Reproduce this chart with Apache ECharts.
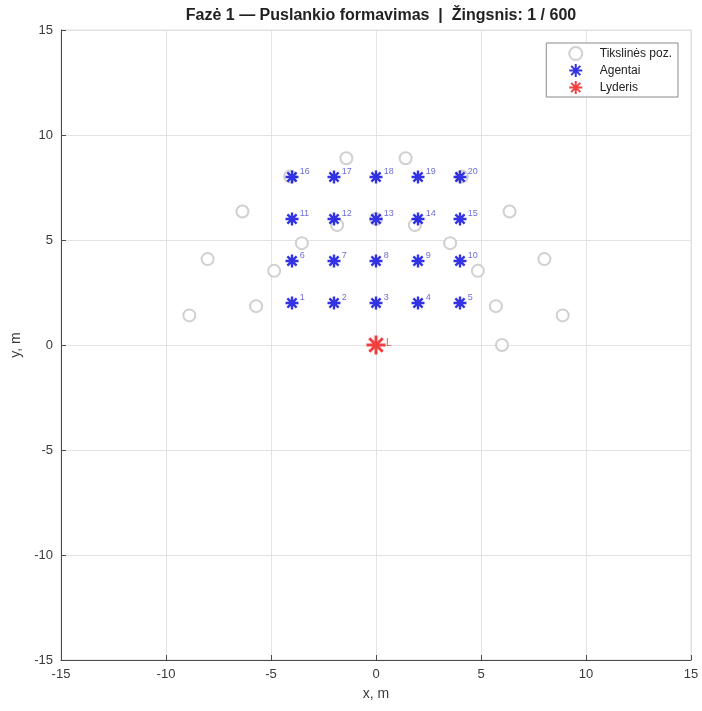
<!DOCTYPE html>
<html>
<head>
<meta charset="utf-8">
<script src="https://cdn.jsdelivr.net/npm/echarts@6/dist/echarts.min.js"></script>
<style>
  html, body { margin: 0; padding: 0; background: #fff; }
  #chart { width: 702px; height: 711px; }
</style>
</head>
<body>
<div id="chart"></div>
<script>
// Formation snapshot: target slots on two arcs, a 5x4 agent grid, leader at origin
const titleText = 'Fazė 1 — Puslankio formavimas  |  Žingsnis: 1 / 600';

// Target positions (x, y) in metres
const targetX = [6.00, 5.71, 4.85, 3.53, 1.85, 0.00, -1.85, -3.53, -4.85, -5.71,
                 8.89, 8.02, 6.36, 4.09, 1.41, -1.41, -4.09, -6.36, -8.02, -8.89];
const targetY = [0.00, 1.85, 3.53, 4.85, 5.71, 6.00, 5.71, 4.85, 3.53, 1.85,
                 1.41, 4.09, 6.36, 8.02, 8.89, 8.89, 8.02, 6.36, 4.09, 1.41];

// Agent positions and their ids
const agentIds = ['1','2','3','4','5','6','7','8','9','10',
                  '11','12','13','14','15','16','17','18','19','20'];
const agentX = [-4, -2, 0, 2, 4, -4, -2, 0, 2, 4, -4, -2, 0, 2, 4, -4, -2, 0, 2, 4];
const agentY = [2, 2, 2, 2, 2, 4, 4, 4, 4, 4, 6, 6, 6, 6, 6, 8, 8, 8, 8, 8];

// Leader
const leaderX = [0];
const leaderY = [0];
const leaderLabel = ['L'];

// Axis ticks
const xTicks = [-15, -10, -5, 0, 5, 10, 15];
const yTicks = [-15, -10, -5, 0, 5, 10, 15];

const asterisk = 'path://M0,-10L0,10M-10,0L10,0M-7.07,-7.07L7.07,7.07M-7.07,7.07L7.07,-7.07';
const font = 'Liberation Sans, Arial, sans-serif';

const targets = targetX.map((x, i) => [x, targetY[i]]);
const agents = agentX.map((x, i) => ({ value: [x, agentY[i]], name: agentIds[i] }));
const leader = leaderX.map((x, i) => ({ value: [x, leaderY[i]], name: leaderLabel[i] }));

const chart = echarts.init(document.getElementById('chart'), null, { renderer: 'canvas' });

const axisCommon = {
  type: 'value',
  interval: 5,
  axisLine: { show: true, onZero: false, lineStyle: { color: '#4a4a4a', width: 1 } },
  axisTick: { show: true, inside: true, length: 5, lineStyle: { color: '#4a4a4a' } },
  axisLabel: { color: '#3a3a3a', fontSize: 13, fontFamily: font },
  splitLine: { show: true, lineStyle: { color: '#e3e3e3', width: 1 } },
  nameTextStyle: { color: '#3a3a3a', fontSize: 14, fontFamily: font },
  nameLocation: 'middle'
};

chart.setOption({
  animation: false,
  backgroundColor: '#ffffff',
  title: {
    text: titleText,
    left: 376,
    textAlign: 'center',
    top: 3,
    textStyle: { fontSize: 16, fontWeight: 'bold', color: '#222', fontFamily: font }
  },
  grid: {
    left: 61, top: 30, width: 630, height: 630,
    show: true, borderColor: '#dcdcdc', borderWidth: 1, backgroundColor: 'transparent'
  },
  xAxis: Object.assign({}, axisCommon, {
    min: xTicks[0], max: xTicks[xTicks.length - 1],
    name: 'x, m', nameGap: 27,
    axisLabel: Object.assign({}, axisCommon.axisLabel, { margin: 8 })
  }),
  yAxis: Object.assign({}, axisCommon, {
    min: yTicks[0], max: yTicks[yTicks.length - 1],
    name: 'y, m', nameGap: 32, nameRotate: 90,
    axisLabel: Object.assign({}, axisCommon.axisLabel, { margin: 8 })
  }),
  legend: {
    orient: 'vertical',
    right: 24,
    top: 43,
    padding: [3, 6, 2, 22],
    itemGap: 2,
    itemWidth: 14,
    itemHeight: 13,
    backgroundColor: '#fff',
    borderColor: '#8a8a8a',
    borderWidth: 1,
    borderRadius: 0,
    textStyle: { fontSize: 12, color: '#222', fontFamily: font, padding: [0, 0, 0, 12] },
    data: ['Tikslinės poz.', 'Agentai', 'Lyderis']
  },
  series: [
    {
      name: 'Tikslinės poz.',
      type: 'scatter',
      symbol: 'emptyCircle',
      symbolSize: 12,
      itemStyle: { color: '#c4c4c4', borderColor: '#c4c4c4', borderWidth: 1.6 },
      data: targets,
      z: 2
    },
    {
      name: 'Agentai',
      type: 'scatter',
      symbol: asterisk,
      symbolSize: 13,
      itemStyle: { color: 'rgba(0,0,0,0)', borderColor: '#0000dd', borderWidth: 2.4 },
      label: {
        show: true,
        position: 'right',
        offset: [-5, -5],
        formatter: p => p.name,
        fontSize: 9,
        color: '#4848d0',
        fontFamily: font
      },
      data: agents,
      z: 3
    },
    {
      name: 'Lyderis',
      type: 'scatter',
      symbol: asterisk,
      symbolSize: 19,
      itemStyle: { color: 'rgba(0,0,0,0)', borderColor: '#ee1111', borderWidth: 3 },
      label: {
        show: true,
        position: 'right',
        offset: [-6, -2],
        formatter: p => p.name,
        fontSize: 10,
        color: '#ee2222',
        fontFamily: font
      },
      data: leader,
      z: 4
    }
  ]
});
</script>
</body>
</html>
